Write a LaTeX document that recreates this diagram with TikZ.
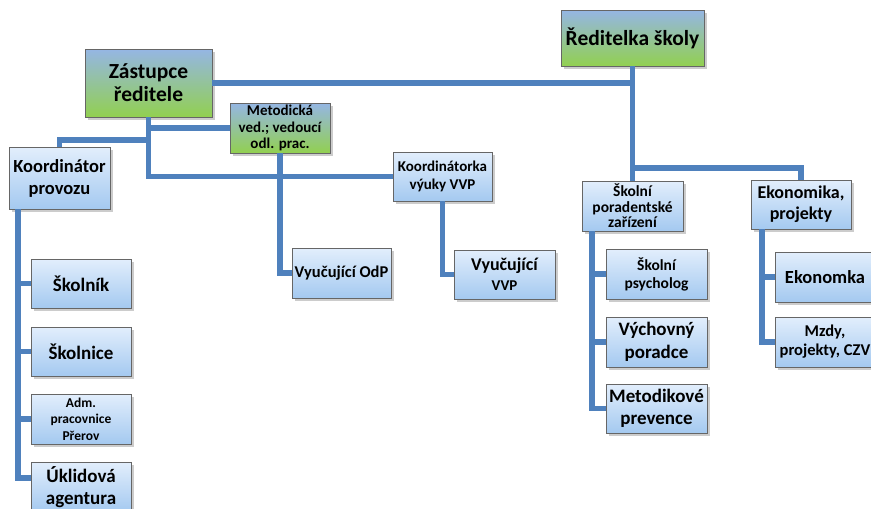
\documentclass[tikz,border=0pt]{standalone}
\usepackage{fontspec}
\setmainfont{Carlito}
\usepackage{xcolor}
\usepackage{tikz}
\usetikzlibrary{shadows}

\definecolor{linkblue}{RGB}{79,129,189}
\definecolor{leadtop}{RGB}{149,182,228}
\definecolor{leadbot}{RGB}{146,208,80}
\definecolor{unittop}{RGB}{226,238,252}
\definecolor{unitbot}{RGB}{164,201,240}

\tikzset{
    box/.style={draw=black!60, line width=0.8pt, align=center, inner sep=1pt,
        drop shadow={shadow xshift=2.5pt, shadow yshift=-2.5pt, fill=black!40, opacity=0.5}},
    leadbox/.style={box, top color=leadtop, bottom color=leadbot},
    unitbox/.style={box, top color=unittop, bottom color=unitbot},
    fs/.style 2 args={font=\bfseries\fontsize{#1}{#2}\selectfont},
    link/.style={draw=linkblue, line width=5.5pt}
}

\begin{document}
\begin{tikzpicture}[x=1pt, y=-1pt]
    \useasboundingbox (0,0) rectangle (871,509);

    \node[leadbox, fs={21.5}{24}, minimum width=143, minimum height=56] (red) at (632.5,38) {Ředitelka školy};
    \node[leadbox, fs={21.5}{23}, minimum width=127, minimum height=68] (zast) at (148.5,83) {Zástupce\\ředitele};
    \node[leadbox, fs={15}{16.5}, minimum width=100, minimum height=50] (metod) at (280,128) {Metodická\\ved.; vedoucí\\odl. prac.};

    \node[unitbox, fs={18.5}{22}, minimum width=101, minimum height=62] (kprov) at (59.5,178) {Koordinátor\\provozu};
    \node[unitbox, fs={15}{18}, minimum width=99, minimum height=49] (kvvp) at (442.5,176.5) {Koordinátorka\\výuky VVP};
    \node[unitbox, fs={15.5}{15.5}, minimum width=101, minimum height=50] (sporad) at (632.5,206) {Školní\\poradentské\\zařízení};
    \node[unitbox, fs={18}{21}, minimum width=100, minimum height=49] (ekon) at (801,204.5) {Ekonomika,\\projekty};

    \node[unitbox, fs={19}{22}, minimum width=100, minimum height=49] (skolnik) at (81,283.5) {Školník};
    \node[unitbox, fs={19}{22}, minimum width=100, minimum height=49] (skolnice) at (81,351.5) {Školnice};
    \node[unitbox, fs={13.5}{16.5}, minimum width=100, minimum height=50] (adm) at (81,419) {Adm.\\pracovnice\\Přerov};
    \node[unitbox, fs={19}{22}, minimum width=100, minimum height=50] (uklid) at (81,487) {Úklidová\\agentura};

    \node[unitbox, fs={16.5}{19}, minimum width=99, minimum height=50] (odp) at (341.5,273) {Vyučující OdP};
    \node[unitbox, fs={15}{20}, minimum width=101, minimum height=49] (vvp) at (504.5,274.5)
        {{\fontsize{18}{20}\selectfont Vyučující}\\VVP};

    \node[unitbox, fs={15.5}{18}, minimum width=101, minimum height=50] (psych) at (656.5,274) {Školní\\psycholog};
    \node[unitbox, fs={19}{22.5}, minimum width=101, minimum height=50] (vych) at (656.5,342) {Výchovný\\poradce};
    \node[unitbox, fs={19}{22.5}, minimum width=101, minimum height=49] (mprev) at (656.5,408.5) {Metodikové\\prevence};

    \node[unitbox, fs={18.5}{21}, minimum width=100, minimum height=50] (ekonomka) at (825,277) {Ekonomka};
    \node[unitbox, fs={16.5}{19}, minimum width=100, minimum height=50] (mzdy) at (825,342) {Mzdy,\\projekty, CZV};

    % vedeni
    \coordinate (j1) at (632.5,168);
    \coordinate (j2) at (148.5,140);
    \draw[link] (red.south) -- (sporad.north);
    \draw[link] (j1) -| (ekon.north);
    \draw[link] (zast.east) -- (zast.east -| red.south);
    \draw[link] (zast.south) |- (kvvp.west);
    \draw[link] (zast.south |- metod.west) -- (metod.west);
    \draw[link] (j2) -| (kprov.north);
    \draw[link] (metod.south) |- (odp.west);
    \draw[link] (kvvp.south) |- (vvp.west);

    % provoz
    \coordinate (l0) at (18,209);
    \coordinate (l1) at (18,478);
    \draw[link] (l0) -- (l1) -- (l1 -| uklid.west);
    \draw[link] (l0 |- skolnik.west) -- (skolnik.west);
    \draw[link] (l0 |- skolnice.west) -- (skolnice.west);
    \draw[link] (l0 |- adm.west) -- (adm.west);

    % poradenstvi
    \coordinate (r0) at (592,231);
    \draw[link] (r0) |- (mprev.west);
    \draw[link] (r0 |- psych.west) -- (psych.west);
    \draw[link] (r0 |- vych.west) -- (vych.west);

    % ekonomika
    \coordinate (e0) at (762,229);
    \draw[link] (e0) |- (mzdy.west);
    \draw[link] (e0 |- ekonomka.west) -- (ekonomka.west);
\end{tikzpicture}
\end{document}
